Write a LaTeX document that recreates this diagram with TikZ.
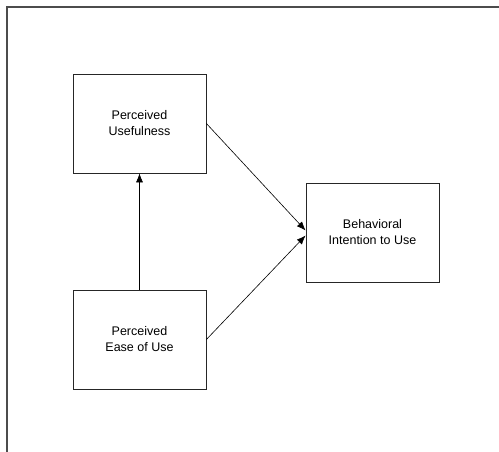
\documentclass[tikz,border=0pt]{standalone}
\usepackage{fontspec}
\setmainfont{Liberation Sans}
\usetikzlibrary{arrows.meta}
\begin{document}
\begin{tikzpicture}[x=1pt,y=-1pt,
  construct/.style={draw=black!85, line width=0.8pt, fill=white,
    minimum width=133pt, minimum height=99pt, inner sep=0pt,
    align=center, font=\fontsize{12.5}{16}\selectfont},
  link/.style={draw=black, line width=0.6pt, -{Latex[length=9pt,width=7pt]}},
  frame/.style={draw=black!70, line width=1.2pt}]
  \useasboundingbox (0,0) rectangle (499,452);
  % open frame: top and left edges only
  \coordinate (fl) at (7,452);
  \coordinate (fc) at (7,7);
  \coordinate (fr) at (499,7);
  \draw[frame] (fl) -- (fc) -- (fr);
  % constructs
  \node[construct] (pu) at (139.5,123.5) {Perceived\\Usefulness};
  \node[construct] (peou) at (139.5,339.5) {Perceived\\Ease of Use};
  \node[construct] (bi) at (372.5,232.5) {Behavioral\\Intention to Use};
  % relations
  \draw[link] (peou.north) -- (pu.south);
  \draw[link] (pu.east) -- ([yshift=2pt]bi.west);
  \draw[link] (peou.east) -- ([yshift=-3pt]bi.west);
\end{tikzpicture}
\end{document}
